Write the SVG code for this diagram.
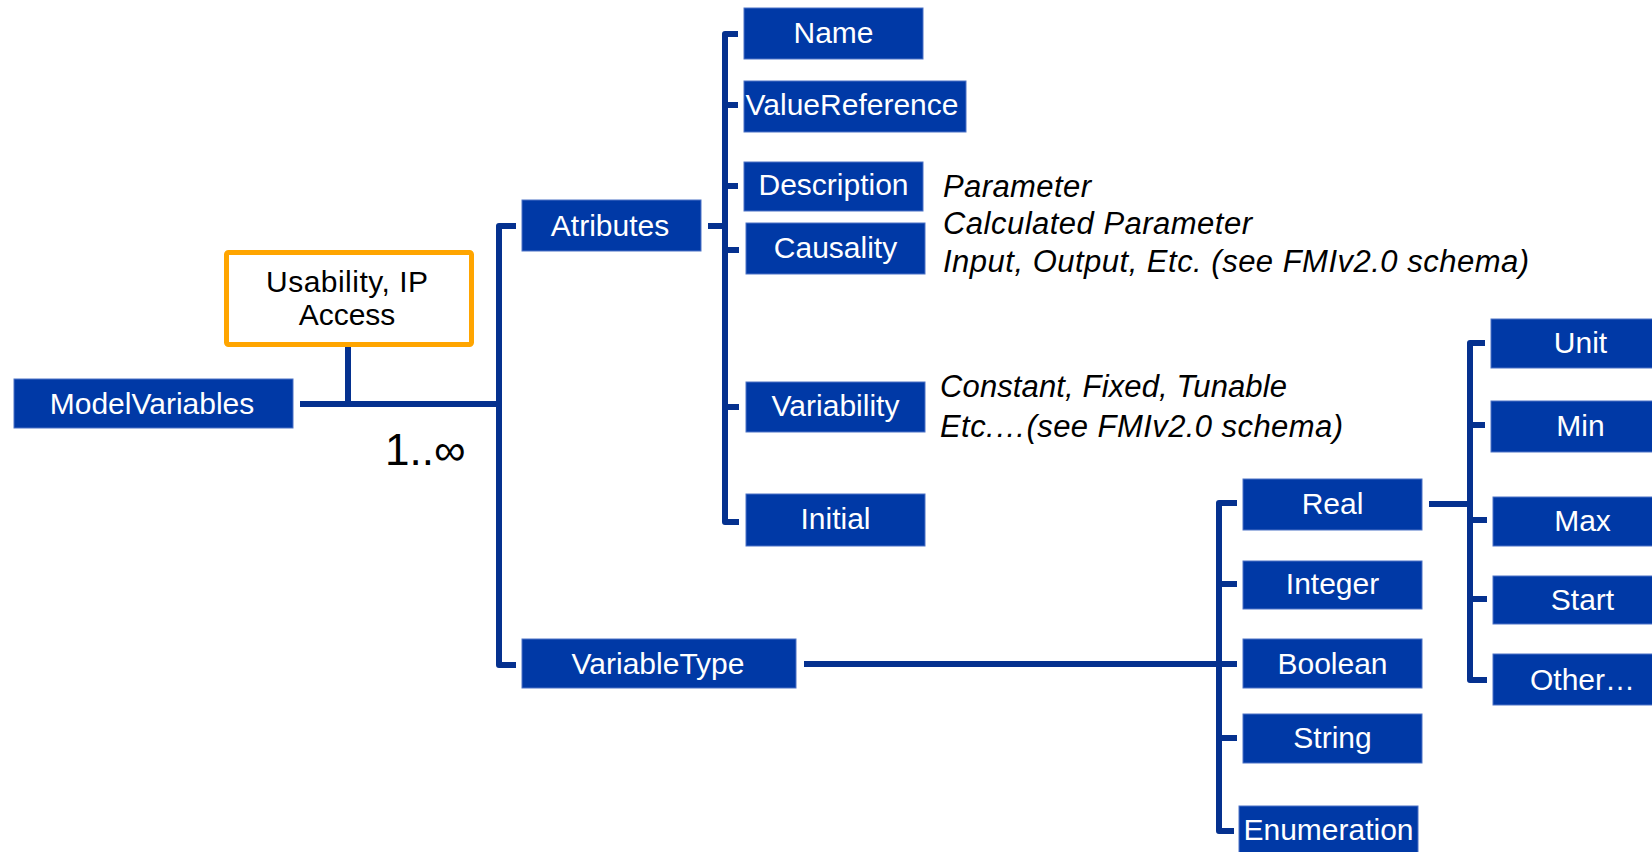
<svg xmlns="http://www.w3.org/2000/svg" width="1652" height="852" viewBox="0 0 1652 852">
  <style>
    .box { fill: #0039a6; stroke: #4d73c6; stroke-width: 1; }
    .lbl { font-family: "Liberation Sans", Arial, sans-serif; font-size: 30px; fill: #ffffff; text-anchor: middle; }
    .note { font-family: "Liberation Sans", Arial, sans-serif; font-size: 31px; font-style: italic; fill: #000000; }
    .wire { fill: none; stroke: #05318f; stroke-width: 6; stroke-linejoin: round; stroke-linecap: butt; }
  </style>
  <rect width="1652" height="852" fill="#ffffff"/>

  <!-- connectors -->
  <g id="connectors">
    <!-- root to trunk -->
    <path class="wire" d="M300 404 H499"/>
    <path class="wire" d="M348 347 V404"/>
    <!-- trunk to Atributes / VariableType -->
    <path class="wire" d="M516 226 H499 V665 H516"/>
    <!-- Atributes children -->
    <path class="wire" d="M708 226 H725"/>
    <path class="wire" d="M738 34 H725 V522 H739"/>
    <path class="wire" d="M725 105 H738"/>
    <path class="wire" d="M725 186 H738"/>
    <path class="wire" d="M725 250 H739"/>
    <path class="wire" d="M725 407 H739"/>
    <!-- VariableType children -->
    <path class="wire" d="M804 664 H1219"/>
    <path class="wire" d="M1237 503 H1219 V831 H1234"/>
    <path class="wire" d="M1219 584 H1237"/>
    <path class="wire" d="M1219 664 H1237"/>
    <path class="wire" d="M1219 738 H1237"/>
    <!-- Real children -->
    <path class="wire" d="M1429 504 H1470"/>
    <path class="wire" d="M1485 343 H1470 V680 H1487"/>
    <path class="wire" d="M1470 425 H1485"/>
    <path class="wire" d="M1470 520 H1487"/>
    <path class="wire" d="M1470 599 H1487"/>
  </g>

  <!-- multiplicity -->
  <text x="385" y="465" font-family="Liberation Sans, Arial, sans-serif" font-size="44" fill="#000000">1..∞</text>

  <!-- root -->
  <g id="model-variables">
    <rect class="box" x="14" y="379" width="279" height="49"/>
    <text class="lbl" x="152" y="414">ModelVariables</text>
  </g>

  <g id="usability">
    <rect x="226.5" y="252.5" width="245" height="92" fill="#ffffff" stroke="#ffa500" stroke-width="5" rx="2"/>
    <text x="347" y="292" font-family="Liberation Sans, Arial, sans-serif" font-size="30" fill="#000000" text-anchor="middle" textLength="162">Usability, IP</text>
    <text x="347" y="325" font-family="Liberation Sans, Arial, sans-serif" font-size="30" fill="#000000" text-anchor="middle">Access</text>
  </g>

  <g id="atributes">
    <rect class="box" x="522" y="200" width="179" height="51"/>
    <text class="lbl" x="610" y="236">Atributes</text>
  </g>

  <g id="variable-type">
    <rect class="box" x="522" y="639" width="274" height="49"/>
    <text class="lbl" x="658" y="674">VariableType</text>
  </g>

  <!-- attributes -->
  <g id="name">
    <rect class="box" x="744" y="8" width="179" height="51"/>
    <text class="lbl" x="833.5" y="43">Name</text>
  </g>
  <g id="value-reference">
    <rect class="box" x="744" y="81" width="222" height="51"/>
    <text class="lbl" x="852" y="115">ValueReference</text>
  </g>
  <g id="description">
    <rect class="box" x="744" y="162" width="179" height="49"/>
    <text class="lbl" x="833.5" y="195">Description</text>
  </g>
  <g id="causality">
    <rect class="box" x="746" y="223" width="179" height="51"/>
    <text class="lbl" x="835.5" y="258">Causality</text>
  </g>
  <g id="variability">
    <rect class="box" x="746" y="382" width="179" height="50"/>
    <text class="lbl" x="835.5" y="416">Variability</text>
  </g>
  <g id="initial">
    <rect class="box" x="746" y="494" width="179" height="52"/>
    <text class="lbl" x="835.5" y="529">Initial</text>
  </g>

  <!-- notes -->
  <g id="causality-notes">
    <text class="note" x="943" y="197" textLength="148">Parameter</text>
    <text class="note" x="943" y="234" textLength="309">Calculated Parameter</text>
    <text class="note" x="943" y="272" textLength="586">Input, Output, Etc. (see FMIv2.0 schema)</text>
  </g>
  <g id="variability-notes">
    <text class="note" x="940" y="397" textLength="347">Constant, Fixed, Tunable</text>
    <text class="note" x="940" y="437" textLength="403">Etc.…(see FMIv2.0 schema)</text>
  </g>

  <!-- variable types -->
  <g id="real">
    <rect class="box" x="1243" y="479" width="179" height="51"/>
    <text class="lbl" x="1332.5" y="514">Real</text>
  </g>
  <g id="integer">
    <rect class="box" x="1243" y="561" width="179" height="48"/>
    <text class="lbl" x="1332.5" y="594">Integer</text>
  </g>
  <g id="boolean">
    <rect class="box" x="1243" y="639" width="179" height="49"/>
    <text class="lbl" x="1332.5" y="674">Boolean</text>
  </g>
  <g id="string">
    <rect class="box" x="1243" y="714" width="179" height="49"/>
    <text class="lbl" x="1332.5" y="748">String</text>
  </g>
  <g id="enumeration">
    <rect class="box" x="1239" y="806" width="179" height="52"/>
    <text class="lbl" x="1328.5" y="840">Enumeration</text>
  </g>

  <!-- real attributes -->
  <g id="unit">
    <rect class="box" x="1491" y="319" width="179" height="49"/>
    <text class="lbl" x="1580.5" y="353">Unit</text>
  </g>
  <g id="min">
    <rect class="box" x="1491" y="401" width="179" height="51"/>
    <text class="lbl" x="1580.5" y="436">Min</text>
  </g>
  <g id="max">
    <rect class="box" x="1493" y="497" width="179" height="49"/>
    <text class="lbl" x="1582.5" y="531">Max</text>
  </g>
  <g id="start">
    <rect class="box" x="1493" y="576" width="179" height="48"/>
    <text class="lbl" x="1582.5" y="610">Start</text>
  </g>
  <g id="other">
    <rect class="box" x="1493" y="654" width="179" height="51"/>
    <text class="lbl" x="1582.5" y="690">Other…</text>
  </g>
</svg>
